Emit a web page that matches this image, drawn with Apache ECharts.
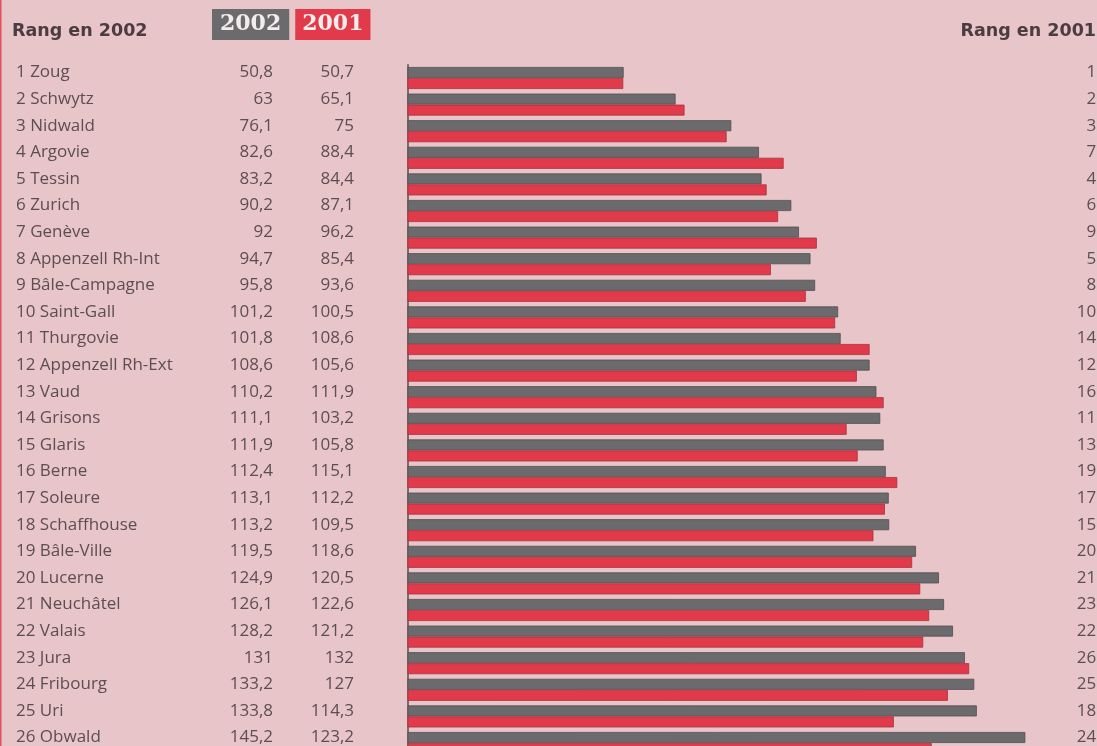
<!DOCTYPE html>
<html>
<head>
<meta charset="utf-8">
<script src="https://cdn.jsdelivr.net/npm/echarts@6/dist/echarts.min.js"></script>
<style>
  html, body { margin: 0; padding: 0; background: #e8c5c9; }
  #chart { width: 1097px; height: 746px; }
</style>
</head>
<body>
<div id="chart"></div>
<script>
// cantons in order of 2002 rank
const cantons = [
  'Zoug', 'Schwytz', 'Nidwald', 'Argovie', 'Tessin', 'Zurich', 'Genève',
  'Appenzell Rh-Int', 'Bâle-Campagne', 'Saint-Gall', 'Thurgovie',
  'Appenzell Rh-Ext', 'Vaud', 'Grisons', 'Glaris', 'Berne', 'Soleure',
  'Schaffhouse', 'Bâle-Ville', 'Lucerne', 'Neuchâtel', 'Valais', 'Jura',
  'Fribourg', 'Uri', 'Obwald'
]
const values2002 = [
  50.8, 63, 76.1, 82.6, 83.2, 90.2, 92, 94.7, 95.8, 101.2, 101.8, 108.6, 110.2,
  111.1, 111.9, 112.4, 113.1, 113.2, 119.5, 124.9, 126.1, 128.2, 131, 133.2,
  133.8, 145.2
]
const values2001 = [
  50.7, 65.1, 75, 88.4, 84.4, 87.1, 96.2, 85.4, 93.6, 100.5, 108.6, 105.6,
  111.9, 103.2, 105.8, 115.1, 112.2, 109.5, 118.6, 120.5, 122.6, 121.2, 132,
  127, 114.3, 123.2
]
const rank2001 = [
  1, 2, 3, 7, 4, 6, 9, 5, 8, 10, 14, 12, 16, 11, 13, 19, 17, 15, 20, 21, 23,
  22, 26, 25, 18, 24
]

const GREY = '#6b6a6d'
const RED = '#e13a4b'
const INK = '#5c4e52'
const HEAD = '#4a3c40'
const FONT = 'Open Sans'
const FS = 17

// 50.8 -> "50,8"
const fmt = (v) => String(v).replace('.', ',')

const labels = cantons.map((c, i) => `${i + 1} ${c}`)

const chart = echarts.init(document.getElementById('chart'))

chart.setOption({
  backgroundColor: '#e8c5c9',
  animation: false,
  textStyle: { fontFamily: FONT },
  // thin red edge of the clipping on the left
  graphic: [
    { type: 'rect', left: 0, top: 0, shape: { width: 1.5, height: 746 }, style: { fill: '#e4505e' }, silent: true }
  ],
  title: [
    {
      text: 'Rang en 2002', left: 12, top: 22, padding: 0,
      textStyle: { fontFamily: 'DejaVu Sans', fontWeight: 'bold', fontSize: 17.5, color: HEAD }
    },
    {
      text: 'Rang en 2001', right: 1, top: 22, padding: 0,
      textStyle: { fontFamily: 'DejaVu Sans', fontWeight: 'bold', fontSize: 17.5, color: HEAD }
    }
  ],
  legend: {
    left: 201,
    top: 4,
    selectedMode: false,
    itemWidth: 0,
    itemHeight: 0,
    itemGap: 0,
    data: [
      { name: '2002', icon: 'rect', textStyle: { backgroundColor: GREY, padding: [5, 8, 4, 8] } },
      { name: '2001', icon: 'rect', textStyle: { backgroundColor: RED, padding: [5, 7, 4, 7] } }
    ],
    textStyle: {
      fontFamily: 'DejaVu Serif', fontWeight: 'bold', fontSize: 22,
      lineHeight: 22, color: '#f3ecec'
    }
  },
  grid: { left: 407.5, right: 8.7, top: 64.7, height: 691.6, outerBoundsMode: 'none' },
  xAxis: {
    type: 'value',
    min: 0,
    max: 160,
    show: false
  },
  yAxis: [
    {
      type: 'category',
      inverse: true,
      data: labels,
      axisLine: { lineStyle: { color: '#5a4e50', width: 1.5 } },
      axisTick: { show: false },
      axisLabel: {
        align: 'left',
        margin: 391.5,
        padding: [0, 0, 11, 0],
        formatter: (v, i) => `{n|${v}}{a|${fmt(values2002[i])}}{b|${fmt(values2001[i])}}`,
        rich: {
          n: { width: 200, fontSize: FS, color: INK, fontFamily: FONT },
          a: { width: 57, align: 'right', fontSize: FS, color: INK, fontFamily: FONT },
          b: { width: 81, align: 'right', fontSize: FS, color: INK, fontFamily: FONT }
        }
      }
    },
    {
      // ranks of 2001 on the right
      type: 'category',
      inverse: true,
      position: 'right',
      data: rank2001.map(String),
      axisLine: { show: false },
      axisTick: { show: false },
      axisLabel: {
        align: 'right',
        margin: 8,
        padding: [0, 0, 11, 0],
        formatter: (v) => `{r|${v}}`,
        rich: {
          r: { fontSize: FS, color: INK, fontFamily: FONT }
        }
      }
    }
  ],
  series: [
    {
      name: '2002',
      type: 'bar',
      data: values2002,
      barWidth: 11,
      barGap: 0,
      itemStyle: { color: GREY, borderColor: '#554d50', borderWidth: 0.8 }
    },
    {
      name: '2001',
      type: 'bar',
      data: values2001,
      barWidth: 11,
      itemStyle: { color: RED, borderColor: '#a8303c', borderWidth: 0.8 }
    }
  ]
})
</script>
</body>
</html>
